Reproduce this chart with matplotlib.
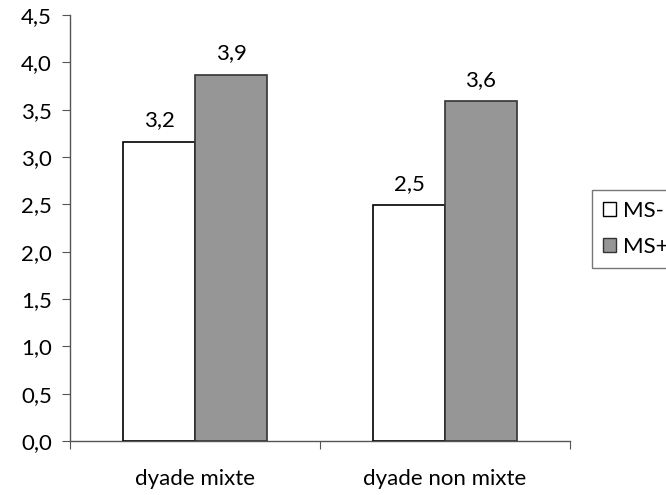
import numpy as np
import matplotlib
matplotlib.use("Agg")
import matplotlib.pyplot as plt
from matplotlib.patches import Patch

plt.rcParams['font.family'] = ['Lato', 'DejaVu Sans']

# === données ===
categories = ['dyade mixte', 'dyade non mixte']
series_names = ['MS-', 'MS+']
ms_moins = [3.16, 2.49]
ms_plus = [3.87, 3.59]
yticks = [0.0, 0.5, 1.0, 1.5, 2.0, 2.5, 3.0, 3.5, 4.0, 4.5]

fs = 16

fig = plt.figure(figsize=(6.66, 4.95), dpi=100)
ax = fig.add_axes([70 / 666, 54 / 495, 500 / 666, 426 / 495])

x = np.arange(len(categories))
w = 0.288
b1 = ax.bar(x - w / 2, ms_moins, w, color='white', edgecolor='black', linewidth=1.2, zorder=3)
b2 = ax.bar(x + w / 2, ms_plus, w, color='#969696', edgecolor='#333333', linewidth=1.2, zorder=3)

for bars in (b1, b2):
    for r in bars:
        h = r.get_height()
        ax.text(r.get_x() + r.get_width() / 2, h + 0.12, f'{h:.1f}'.replace('.', ','),
                ha='center', va='bottom', fontsize=fs)

ax.set_xlim(-0.5, 1.5)
ax.set_ylim(0, 4.5)
ax.set_yticks(yticks)
ax.set_yticklabels([f'{v:.1f}'.replace('.', ',') for v in yticks], fontsize=fs)
ax.set_xticks([-0.5, 0.5, 1.5])
ax.set_xticklabels([])
ax.set_xticks(x, minor=True)
ax.set_xticklabels(categories, minor=True, fontsize=fs)
ax.tick_params(axis='x', which='minor', length=0, pad=20)
ax.tick_params(axis='x', which='major', length=6, direction='out', color='#555555')
ax.tick_params(axis='y', length=6, direction='out', color='#555555', pad=7)

for s in ['top', 'right']:
    ax.spines[s].set_visible(False)
for s in ['left', 'bottom']:
    ax.spines[s].set_color('#555555')
    ax.spines[s].set_linewidth(1.0)

handles = [Patch(facecolor='white', edgecolor='black'),
           Patch(facecolor='#969696', edgecolor='#333333')]
leg = fig.legend(handles, series_names, loc='center left',
                 bbox_to_anchor=(592 / 666, 266 / 495), fontsize=fs,
                 frameon=True, fancybox=False, edgecolor='#555555',
                 handlelength=0.6, handleheight=0.6, handletextpad=0.3,
                 labelspacing=0.7, borderpad=0.5, borderaxespad=0)
leg.get_frame().set_linewidth(1.0)

fig.savefig('out.png', dpi=100)
